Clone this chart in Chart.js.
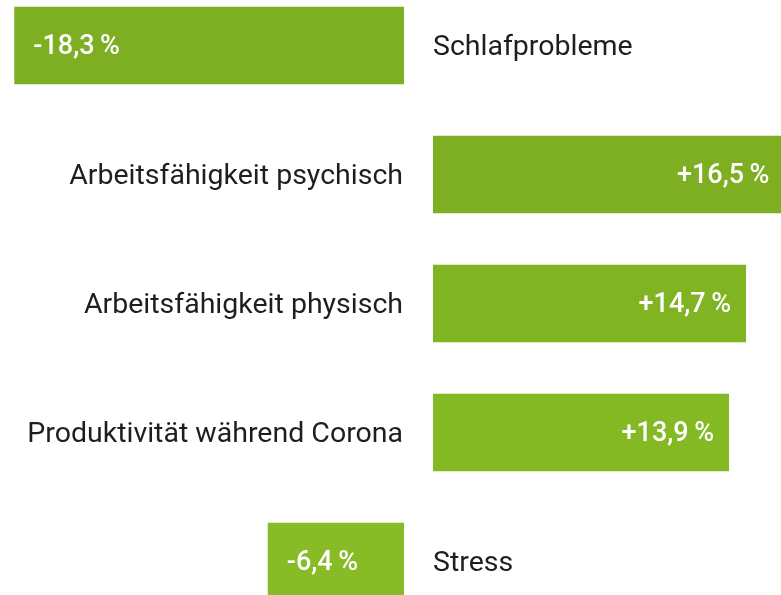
<!DOCTYPE html>
<html>
<head>
<meta charset="utf-8">
<script src="https://cdn.jsdelivr.net/npm/chart.js@4/dist/chart.umd.min.js"></script>
<style>
  html, body { margin: 0; padding: 0; background: #fff; overflow: hidden; }
  #wrap { position: relative; width: 781px; height: 595px; overflow: hidden; }
  #chart { position: absolute; left: 0; top: -19px; }
</style>
</head>
<body>
<div id="wrap"><canvas id="chart" width="781" height="645"></canvas></div>
<script>
const categories = ['Schlafprobleme', 'Arbeitsfähigkeit psychisch', 'Arbeitsfähigkeit physisch', 'Produktivität während Corona', 'Stress'];
const values = [-18.3, 16.5, 14.7, 13.9, -6.4];
const barColors = ['#7eaf22', '#7eae21', '#81b423', '#84b924', '#87bc26'];

// half of the white gap around zero, in value units
const GAP = 0.68;

const fmt = v => (v > 0 ? '+' : '-') + Math.abs(v).toFixed(1).replace('.', ',') + '\u2009%';

const barData = values.map(v => v < 0 ? [v - GAP, -GAP] : [GAP, v + GAP]);

const labelPlugin = {
  id: 'labels',
  afterDatasetsDraw(chart) {
    const ctx = chart.ctx;
    const meta = chart.getDatasetMeta(0);
    const x = chart.scales.x;
    const leftEdge = x.getPixelForValue(-GAP);
    const rightEdge = x.getPixelForValue(GAP);
    ctx.save();
    ctx.textBaseline = 'middle';
    meta.data.forEach((bar, i) => {
      const v = values[i];
      const y = bar.y + 2;
      // category name on the opposite side
      ctx.font = '400 28.5px Roboto';
      ctx.fillStyle = '#1e1e1e';
      if (v < 0) {
        ctx.textAlign = 'left';
        ctx.fillText(categories[i], rightEdge, y);
      } else {
        ctx.textAlign = 'right';
        ctx.fillText(categories[i], leftEdge - 1, y);
      }
      // value inside the bar
      ctx.font = '500 27px Roboto';
      ctx.fillStyle = '#ffffff';
      if (v < 0) {
        ctx.textAlign = 'left';
        ctx.fillText(fmt(v), x.getPixelForValue(v - GAP) + 19, y);
      } else {
        ctx.textAlign = 'right';
        ctx.fillText(fmt(v), x.getPixelForValue(v + GAP) - 15, y);
      }
    });
    ctx.restore();
  }
};

new Chart(document.getElementById('chart'), {
  type: 'bar',
  data: {
    labels: categories,
    datasets: [{
      data: barData,
      backgroundColor: barColors,
      borderWidth: 0,
      barPercentage: 0.6,
      categoryPercentage: 1
    }]
  },
  options: {
    indexAxis: 'y',
    responsive: false,
    animation: false,
    layout: { padding: 0 },
    plugins: { legend: { display: false }, tooltip: { enabled: false } },
    scales: {
      x: { display: false, min: -19.65, max: 17.02 },
      y: { display: false }
    }
  },
  plugins: [labelPlugin]
});
</script>
</body>
</html>
